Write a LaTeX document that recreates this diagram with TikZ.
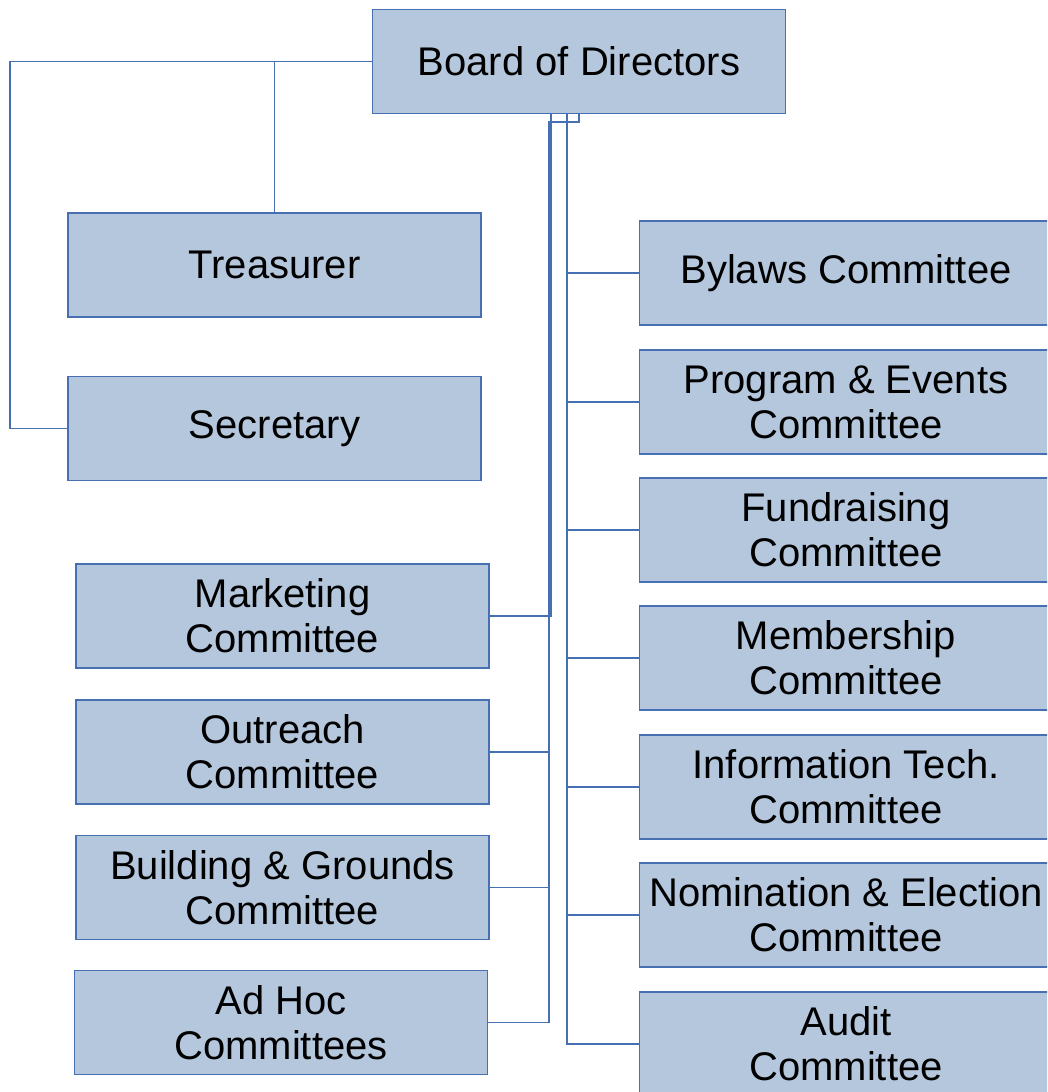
\documentclass[tikz,border=0pt]{standalone}
\usepackage{fontspec}
\setmainfont{Liberation Sans}
\definecolor{boxfill}{RGB}{181,199,221}
\definecolor{boxline}{RGB}{70,112,178}
\begin{document}
\begin{tikzpicture}[x=1pt,y=-1pt,
  orgbox/.style={draw=boxline,fill=boxfill,line width=1.6pt,minimum width=413pt,minimum height=104pt,inner sep=0pt,align=center,font=\fontsize{40}{45}\selectfont},
  conn/.style={draw=boxline,line width=1.8pt}]
\useasboundingbox (0,0) rectangle (1047,1092);
\clip (0,0) rectangle (1047,1092);
\fill[white] (0,0) rectangle (1047,1092);
% nodes
\node[orgbox] (board) at (579,61.5) {Board of Directors};
\node[orgbox] (treas) at (274.5,265) {Treasurer};
\node[orgbox] (sec) at (274.5,428.5) {Secretary};
\node[orgbox] (mark) at (282.5,616) {Marketing\\Committee};
\node[orgbox] (outr) at (282.5,752) {Outreach\\Committee};
\node[orgbox] (build) at (282.5,887.5) {Building \& Grounds\\Committee};
\node[orgbox] (adhoc) at (281,1022.5) {Ad Hoc\\Committees};
\node[orgbox] (bylaws) at (846,273) {Bylaws Committee};
\node[orgbox] (prog) at (846,402) {Program \& Events\\Committee};
\node[orgbox] (fund) at (846,530) {Fundraising\\Committee};
\node[orgbox] (memb) at (846,658) {Membership\\Committee};
\node[orgbox] (info) at (846,787) {Information Tech.\\Committee};
\node[orgbox] (nomi) at (846,915) {Nomination \& Election\\Committee};
\node[orgbox] (audit) at (846,1044) {Audit\\Committee};
% helper coordinates
\coordinate (lc) at (10,200);
\coordinate (tl) at (551,200);
\coordinate (k1) at (549,122);
\coordinate (tr) at (567,200);
% connectors
\draw[conn] (board.west) -| (lc) |- (sec.west);
\draw[conn] (treas.north) -- (treas.north |- board.west);
\draw[conn] (board.south -| tl) |- (mark.east);
\draw[conn] (board.south) |- (k1) |- (outr.east);
\draw[conn] (k1) |- (build.east);
\draw[conn] (k1) |- (adhoc.east);
\draw[conn] (board.south -| tr) |- (bylaws.west);
\draw[conn] (board.south -| tr) |- (prog.west);
\draw[conn] (board.south -| tr) |- (fund.west);
\draw[conn] (board.south -| tr) |- (memb.west);
\draw[conn] (board.south -| tr) |- (info.west);
\draw[conn] (board.south -| tr) |- (nomi.west);
\draw[conn] (board.south -| tr) |- (audit.west);
\end{tikzpicture}
\end{document}
